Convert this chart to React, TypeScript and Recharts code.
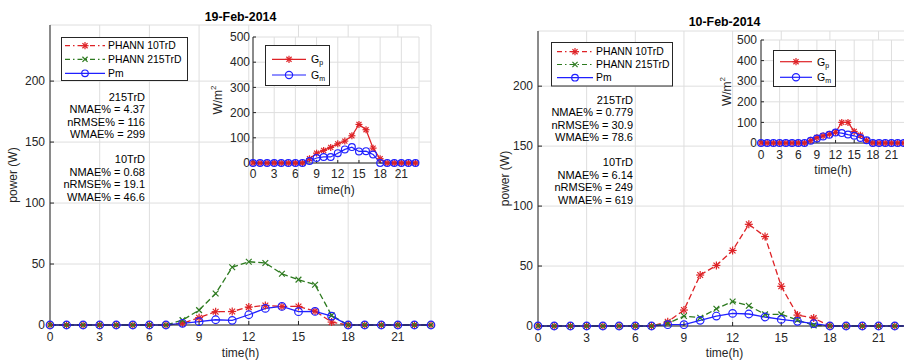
import { LineChart, Line, XAxis, YAxis, CartesianGrid } from 'recharts';

const hours = [0, 1, 2, 3, 4, 5, 6, 7, 8, 9, 10, 11, 12, 13, 14, 15, 16, 17, 18, 19, 20, 21, 22, 23];
const xTicks = [0, 3, 6, 9, 12, 15, 18, 21];
const powerTicks = [0, 50, 100, 150, 200];
const irrTicks = [0, 100, 200, 300, 400, 500];
const seriesNames = ['PHANN 10TrD', 'PHANN 215TrD', 'Pm'];

// 19-Feb-2014
const phann10_19 = [0, 0, 0, 0, 0, 0, 0, 0, 1.4, 6, 10.9, 11.1, 14.7, 16, 15.2, 15.2, 11.4, 2.4, 0, 0, 0, 0, 0, 0];
const phann215_19 = [0, 0, 0, 0, 0, 0, 0, 0, 4, 12.2, 25.8, 47.3, 51.9, 50.8, 42, 37.2, 33, 7.9, 0, 0, 0, 0, 0, 0];
const pm_19 = [0, 0, 0, 0, 0, 0, 0, 0, 1.4, 2.7, 4.3, 3.8, 8.4, 13.6, 15.2, 10.9, 11.1, 7.3, 0, 0, 0, 0, 0, 0];
const gp_19 = [0, 0, 0, 0, 0, 0, 0, 0, 17, 39, 50, 62, 76, 87, 108, 153, 132, 59, 17, 0, 0, 0, 0, 0];
const gm_19 = [0, 0, 0, 0, 0, 0, 0, 0, 8, 20, 24, 24, 39, 54, 63, 46, 47, 34, 0, 0, 0, 0, 0, 0];
const stats_19 = ['215TrD', 'NMAE% = 4.37', 'nRMSE% = 116', 'WMAE% = 299', '', '10TrD', 'NMAE% = 0.68', 'nRMSE% = 19.1', 'WMAE% = 46.6'];

// 10-Feb-2014
const phann10_10 = [0, 0, 0, 0, 0, 0, 0, 0, 3.6, 13.3, 42.5, 50.5, 63, 84.8, 74.6, 33.1, 9.1, 6.6, 0, 0, 0, 0, 0, 0];
const phann215_10 = [0, 0, 0, 0, 0, 0, 0, 0, 2.2, 8.3, 6.9, 14.4, 20.4, 16.9, 9.7, 9.7, 5, 0.5, 0, 0, 0, 0, 0, 0];
const pm_10 = [0, 0, 0, 0, 0, 0, 0, 0, 1.1, 1.1, 4.7, 8.3, 10.5, 10, 7.5, 5.5, 3.9, 1.9, 0, 0, 0, 0, 0, 0];
const gp_10 = [0, 0, 0, 0, 0, 0, 0, 0, 13, 27, 35, 43, 52, 100, 100, 56, 38, 12, 0, 0, 0, 0, 0, 0];
const gm_10 = [0, 0, 0, 0, 0, 0, 0, 0, 11, 22, 32, 40, 51, 48, 41, 35, 24, 13, 0, 0, 0, 0, 0, 0];
const stats_10 = ['215TrD', 'NMAE% = 0.779', 'nRMSE% = 30.9', 'WMAE% = 78.6', '', '10TrD', 'NMAE% = 6.14', 'nRMSE% = 249', 'WMAE% = 619'];

const data19 = hours.map((h, i) => ({ h, p10: phann10_19[i], p215: phann215_19[i], pm: pm_19[i], gp: gp_19[i], gm: gm_19[i] }));
const data10 = hours.map((h, i) => ({ h, p10: phann10_10[i], p215: phann215_10[i], pm: pm_10[i], gp: gp_10[i], gm: gm_10[i] }));

const FONT = '"Liberation Sans", Arial, Helvetica, sans-serif';
const RED = '#de2226';
const GREEN = '#2d7a1f';
const BLUE = '#2020ff';
const AX = '#262626';
const GRID = '#dedede';

function Marker({ kind, cx, cy, color, s }: any) {
  if (kind === 'o') return <circle cx={cx} cy={cy} r={s} fill="none" stroke={color} strokeWidth={1.2} />;
  const d = s * 0.72;
  return (
    <g stroke={color} strokeWidth={1.2}>
      {kind === 'star' && <line x1={cx - s} y1={cy} x2={cx + s} y2={cy} />}
      {kind === 'star' && <line x1={cx} y1={cy - s} x2={cx} y2={cy + s} />}
      <line x1={cx - d} y1={cy - d} x2={cx + d} y2={cy + d} />
      <line x1={cx - d} y1={cy + d} x2={cx + d} y2={cy - d} />
    </g>
  );
}

const dotOf = (kind: string, color: string, s: number) => (p: any) =>
  <Marker key={`${kind}${p.index}`} kind={kind} cx={p.cx} cy={p.cy} color={color} s={s} />;

const blank = () => '';

function PowerChart({ data, width, margin }: any) {
  return (
    <LineChart width={width} height={361} data={data} margin={margin}>
      <CartesianGrid stroke={GRID} />
      <XAxis dataKey="h" type="number" domain={[0, 23]} ticks={xTicks} interval={0} height={30} tickSize={-4} tickMargin={11} stroke={AX} tick={{ fontSize: 12, fill: AX }} />
      <XAxis xAxisId="top" orientation="top" dataKey="h" type="number" domain={[0, 23]} ticks={xTicks} interval={0} height={0} tickSize={-4} tickFormatter={blank} stroke={AX} />
      <YAxis type="number" domain={[0, 246]} ticks={powerTicks} interval={0} width={40} tickSize={-4} tickMargin={9} stroke={AX} tick={{ fontSize: 12, fill: AX }} />
      <YAxis yAxisId="right" orientation="right" type="number" domain={[0, 246]} ticks={powerTicks} interval={0} width={0} tickSize={-4} tickFormatter={blank} stroke={AX} />
      <Line dataKey="p10" type="linear" stroke={RED} strokeWidth={1.3} strokeDasharray="6 3" dot={dotOf('star', RED, 4)} activeDot={false} isAnimationActive={false} />
      <Line dataKey="p215" type="linear" stroke={GREEN} strokeWidth={1.3} strokeDasharray="6 3" dot={dotOf('x', GREEN, 4)} activeDot={false} isAnimationActive={false} />
      <Line dataKey="pm" type="linear" stroke={BLUE} strokeWidth={1.3} dot={dotOf('o', BLUE, 3.8)} activeDot={false} isAnimationActive={false} />
    </LineChart>
  );
}

function IrrChart({ data, margin, mx, my }: any) {
  return (
    <LineChart width={230} height={180} data={data} margin={margin}>
      <CartesianGrid stroke={GRID} fill="#fff" fillOpacity={1} />
      <XAxis dataKey="h" type="number" domain={[0, 23.5]} ticks={xTicks} interval={0} height={30} tickSize={-3} tickMargin={mx} stroke={AX} tick={{ fontSize: 12, fill: AX }} />
      <XAxis xAxisId="top" orientation="top" dataKey="h" type="number" domain={[0, 23.5]} ticks={xTicks} interval={0} height={0} tickSize={-3} tickFormatter={blank} stroke={AX} />
      <YAxis type="number" domain={[0, 500]} ticks={irrTicks} interval={0} width={35} tickSize={-3} tickMargin={my} stroke={AX} tick={{ fontSize: 12, fill: AX }} />
      <YAxis yAxisId="right" orientation="right" type="number" domain={[0, 500]} ticks={irrTicks} interval={0} width={0} tickSize={-3} tickFormatter={blank} stroke={AX} />
      <Line dataKey="gp" type="linear" stroke={RED} strokeWidth={1.2} dot={dotOf('star', RED, 3.5)} activeDot={false} isAnimationActive={false} />
      <Line dataKey="gm" type="linear" stroke={BLUE} strokeWidth={1.2} dot={dotOf('o', BLUE, 3.4)} activeDot={false} isAnimationActive={false} />
    </LineChart>
  );
}

function MainLegend({ x, y, w, h, rows, x1, x2, tx }: any) {
  const styles = [
    { color: RED, dash: '5 3 1.5 3', kind: 'star' },
    { color: GREEN, dash: '5 3 1.5 3', kind: 'x' },
    { color: BLUE, dash: undefined, kind: 'o' },
  ];
  return (
    <g>
      <rect x={x} y={y} width={w} height={h} fill="#fff" stroke={AX} strokeWidth={1} />
      {seriesNames.map((name, i) => (
        <g key={name}>
          <line x1={x1} x2={x2} y1={rows[i]} y2={rows[i]} stroke={styles[i].color} strokeWidth={1.2} strokeDasharray={styles[i].dash} />
          <Marker kind={styles[i].kind} cx={(x1 + x2) / 2} cy={rows[i]} color={styles[i].color} s={i === 2 ? 3.3 : 3.6} />
          <text x={tx} y={rows[i]} dominantBaseline="central" fontSize={10.4} fill="#000">{name}</text>
        </g>
      ))}
    </g>
  );
}

function InsetLegend({ x, y, w, h, rows, x1, x2, tx }: any) {
  const items = [
    { color: RED, kind: 'star', sub: 'p' },
    { color: BLUE, kind: 'o', sub: 'm' },
  ];
  return (
    <g>
      <rect x={x} y={y} width={w} height={h} fill="#fff" stroke={AX} strokeWidth={1} />
      {items.map((it, i) => (
        <g key={it.sub}>
          <line x1={x1} x2={x2} y1={rows[i]} y2={rows[i]} stroke={it.color} strokeWidth={1.2} />
          <Marker kind={it.kind} cx={(x1 + x2) / 2} cy={rows[i]} color={it.color} s={3.6} />
          <text x={tx} y={rows[i]} dominantBaseline="central" fontSize={10.5} fill="#000">
            G<tspan dy={3} fontSize={7}>{it.sub}</tspan>
          </text>
        </g>
      ))}
    </g>
  );
}

function Stats({ lines, x, y }: any) {
  return (
    <g>
      {lines.map((t: string, i: number) => (
        <text key={i} x={x} y={y + i * 12.45} textAnchor="end" dominantBaseline="central" fontSize={11} fill="#000">{t}</text>
      ))}
    </g>
  );
}

export default function App() {
  return (
    <div style={{ position: 'absolute', left: 0, top: 0, width: 904, height: 361, overflow: 'hidden', background: '#fff', fontFamily: FONT }}>
      <div style={{ position: 'absolute', left: 0, top: 0 }}>
        <PowerChart data={data19} width={450} margin={{ top: 25, right: 19, bottom: 6, left: 10 }} />
      </div>
      <div style={{ position: 'absolute', left: 450, top: 0 }}>
        <PowerChart data={data10} width={470} margin={{ top: 31, right: 9, bottom: 5, left: 48 }} />
      </div>
      <svg style={{ position: 'absolute', left: 0, top: 0 }} width={904} height={361} fontFamily={FONT}>
        <MainLegend x={61.5} y={37.5} w={126} h={43} rows={[45.7, 59.3, 73.3]} x1={65} x2={105} tx={108} />
        <MainLegend x={551.5} y={42.5} w={121} h={43.5} rows={[51.7, 64.5, 77.7]} x1={557} x2={593} tx={596} />
        <Stats lines={stats_19} x={145} y={97} />
        <Stats lines={stats_10} x={633} y={100} />
        <text x={240.5} y={17} textAnchor="middle" dominantBaseline="central" fontSize={12.4} fontWeight="bold" fill="#000">19-Feb-2014</text>
        <text x={724.5} y={22} textAnchor="middle" dominantBaseline="central" fontSize={12.4} fontWeight="bold" fill="#000">10-Feb-2014</text>
        <text x={240.5} y={353} textAnchor="middle" dominantBaseline="central" fontSize={12} fill={AX}>time(h)</text>
        <text x={724.5} y={353} textAnchor="middle" dominantBaseline="central" fontSize={12} fill={AX}>time(h)</text>
        <text transform="translate(13,175) rotate(-90)" textAnchor="middle" dominantBaseline="central" fontSize={12} fill={AX}>power (W)</text>
        <text transform="translate(505,178.5) rotate(-90)" textAnchor="middle" dominantBaseline="central" fontSize={12} fill={AX}>power (W)</text>
      </svg>
      <div style={{ position: 'absolute', left: 200, top: 20 }}>
        <IrrChart data={data19} margin={{ top: 17, right: 11, bottom: 7, left: 18 }} mx={9} my={6} />
      </div>
      <div style={{ position: 'absolute', left: 700, top: 20 }}>
        <IrrChart data={data10} margin={{ top: 20, right: 23, bottom: 27, left: 26 }} mx={10} my={7} />
      </div>
      <svg style={{ position: 'absolute', left: 0, top: 0 }} width={904} height={361} fontFamily={FONT}>
        <InsetLegend x={265.5} y={45.5} w={64} h={40} rows={[59.3, 75]} x1={272} x2={306} tx={311} />
        <InsetLegend x={773.5} y={50.5} w={62} h={36} rows={[61.7, 77.3]} x1={780} x2={812} tx={817} />
        <text x={336} y={190} textAnchor="middle" dominantBaseline="central" fontSize={12} fill={AX}>time(h)</text>
        <text x={833} y={170} textAnchor="middle" dominantBaseline="central" fontSize={12} fill={AX}>time(h)</text>
        <text transform="translate(218,100) rotate(-90)" textAnchor="middle" dominantBaseline="central" fontSize={12} fill={AX}>
          W/m<tspan dy={-5} fontSize={8}>2</tspan>
        </text>
        <text transform="translate(727,91.5) rotate(-90)" textAnchor="middle" dominantBaseline="central" fontSize={12} fill={AX}>
          W/m<tspan dy={-5} fontSize={8}>2</tspan>
        </text>
      </svg>
    </div>
  );
}
